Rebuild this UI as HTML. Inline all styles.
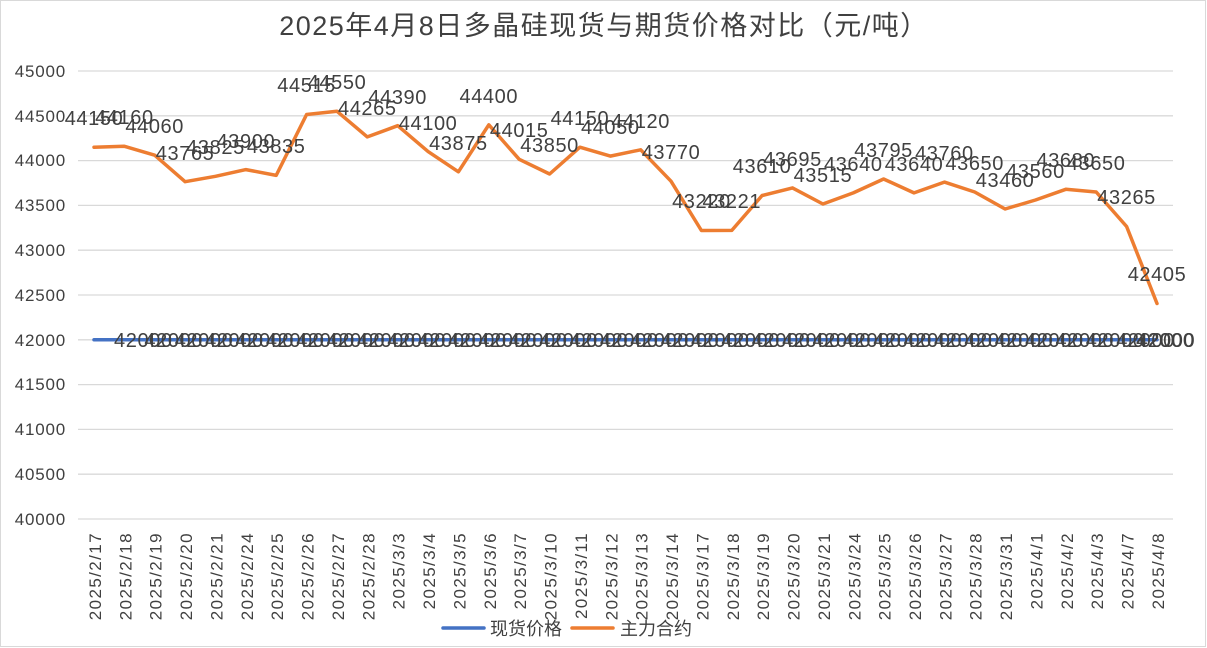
<!DOCTYPE html>
<html><head><meta charset="utf-8"><style>
body{margin:0;background:#fff}
svg{display:block}
text{font-family:"Liberation Sans","Noto Sans CJK SC",sans-serif;fill:#404040}
.yl{font-size:17px;text-anchor:end;letter-spacing:0.8px}
.xl{font-size:17px;text-anchor:end;letter-spacing:1.4px}
.dl{font-size:20px;text-anchor:middle;letter-spacing:0.6px}
.bl{font-size:20px;letter-spacing:0.6px}
</style></head><body>
<svg width="1207" height="648" viewBox="0 0 1207 648">
<rect x="0.5" y="0.5" width="1205" height="646" fill="#fff" stroke="#d9d9d9"/>
<text x="604" y="35" font-size="27" text-anchor="middle" letter-spacing="1.5">2025年4月8日多晶硅现货与期货价格对比（元/吨）</text>
<g stroke="#d9d9d9" stroke-width="1.3">
<line x1="78" x2="1173" y1="71" y2="71"/><line x1="78" x2="1173" y1="115.8" y2="115.8"/>
<line x1="78" x2="1173" y1="160.6" y2="160.6"/><line x1="78" x2="1173" y1="205.4" y2="205.4"/>
<line x1="78" x2="1173" y1="250.2" y2="250.2"/><line x1="78" x2="1173" y1="295" y2="295"/>
<line x1="78" x2="1173" y1="339.8" y2="339.8"/><line x1="78" x2="1173" y1="384.6" y2="384.6"/>
<line x1="78" x2="1173" y1="429.4" y2="429.4"/><line x1="78" x2="1173" y1="474.2" y2="474.2"/>
<line x1="78" x2="1173" y1="519" y2="519"/>
</g>
<g>
<text class="yl" x="66" y="77">45000</text><text class="yl" x="66" y="122">44500</text>
<text class="yl" x="66" y="166">44000</text><text class="yl" x="66" y="211">43500</text>
<text class="yl" x="66" y="256">43000</text><text class="yl" x="66" y="301">42500</text>
<text class="yl" x="66" y="346">42000</text><text class="yl" x="66" y="390">41500</text>
<text class="yl" x="66" y="435">41000</text><text class="yl" x="66" y="480">40500</text>
<text class="yl" x="66" y="525">40000</text>
</g>
<line x1="94" x2="1157" y1="339.8" y2="339.8" stroke="#4472c4" stroke-width="3.5" stroke-linecap="round"/>
<polyline fill="none" stroke="#ed7d31" stroke-width="3.5" stroke-linejoin="round" stroke-linecap="round" points="94,147.2 124.4,146.3 154.7,155.2 185.1,181.7 215.5,176.3 245.9,169.6 276.2,175.4 306.6,114.5 337,111.3 367.3,136.9 397.7,125.7 428.1,151.6 458.4,171.8 488.8,124.8 519.2,159.3 549.6,174 579.9,147.2 610.3,156.1 640.7,149.8 671,181.2 701.4,230.5 731.8,230.4 762.1,195.5 792.5,187.9 822.9,204 853.3,192.9 883.6,179 914,192.9 944.4,182.1 974.7,192 1005.1,209 1035.5,200 1065.8,189.3 1096.2,192 1126.6,226.5 1157,303.5"/>
<g>
<text class="bl" x="114" y="347">42000</text><text class="bl" x="144.4" y="347">42000</text><text class="bl" x="174.7" y="347">42000</text><text class="bl" x="205.1" y="347">42000</text><text class="bl" x="235.5" y="347">42000</text><text class="bl" x="265.9" y="347">42000</text><text class="bl" x="296.2" y="347">42000</text><text class="bl" x="326.6" y="347">42000</text><text class="bl" x="357" y="347">42000</text><text class="bl" x="387.3" y="347">42000</text><text class="bl" x="417.7" y="347">42000</text><text class="bl" x="448.1" y="347">42000</text><text class="bl" x="478.4" y="347">42000</text><text class="bl" x="508.8" y="347">42000</text><text class="bl" x="539.2" y="347">42000</text><text class="bl" x="569.6" y="347">42000</text><text class="bl" x="599.9" y="347">42000</text><text class="bl" x="630.3" y="347">42000</text><text class="bl" x="660.7" y="347">42000</text><text class="bl" x="691" y="347">42000</text><text class="bl" x="721.4" y="347">42000</text><text class="bl" x="751.8" y="347">42000</text><text class="bl" x="782.1" y="347">42000</text><text class="bl" x="812.5" y="347">42000</text><text class="bl" x="842.9" y="347">42000</text><text class="bl" x="873.3" y="347">42000</text><text class="bl" x="903.6" y="347">42000</text><text class="bl" x="934" y="347">42000</text><text class="bl" x="964.4" y="347">42000</text><text class="bl" x="994.7" y="347">42000</text><text class="bl" x="1025.1" y="347">42000</text><text class="bl" x="1055.5" y="347">42000</text><text class="bl" x="1085.8" y="347">42000</text><text class="bl" x="1116.2" y="347">42000</text><text class="bl" x="1136.6" y="347">42000</text><text class="bl" x="1136" y="347">42000</text>
</g>
<g>
<text class="dl" x="94" y="125">44150</text><text class="dl" x="124.4" y="124">44160</text><text class="dl" x="154.7" y="133">44060</text><text class="dl" x="185.1" y="160">43765</text><text class="dl" x="215.5" y="154">43825</text><text class="dl" x="245.9" y="148">43900</text><text class="dl" x="276.2" y="153">43835</text><text class="dl" x="306.6" y="92">44515</text><text class="dl" x="337" y="89">44550</text><text class="dl" x="367.3" y="115">44265</text><text class="dl" x="397.7" y="104">44390</text><text class="dl" x="428.1" y="130">44100</text><text class="dl" x="458.4" y="150">43875</text><text class="dl" x="488.8" y="103">44400</text><text class="dl" x="519.2" y="137">44015</text><text class="dl" x="549.6" y="152">43850</text><text class="dl" x="579.9" y="125">44150</text><text class="dl" x="610.3" y="134">44050</text><text class="dl" x="640.7" y="128">44120</text><text class="dl" x="671" y="159">43770</text><text class="dl" x="701.4" y="208">43220</text><text class="dl" x="731.8" y="208">43221</text><text class="dl" x="762.1" y="173">43610</text><text class="dl" x="792.5" y="166">43695</text><text class="dl" x="822.9" y="182">43515</text><text class="dl" x="853.3" y="171">43640</text><text class="dl" x="883.6" y="157">43795</text><text class="dl" x="914" y="171">43640</text><text class="dl" x="944.4" y="160">43760</text><text class="dl" x="974.7" y="170">43650</text><text class="dl" x="1005.1" y="187">43460</text><text class="dl" x="1035.5" y="178">43560</text><text class="dl" x="1065.8" y="167">43680</text><text class="dl" x="1096.2" y="170">43650</text><text class="dl" x="1126.6" y="204">43265</text><text class="dl" x="1157" y="281">42405</text>
</g>
<g>
<text class="xl" transform="translate(101,532) rotate(-90)">2025/2/17</text>
<text class="xl" transform="translate(131.4,532) rotate(-90)">2025/2/18</text>
<text class="xl" transform="translate(161.7,532) rotate(-90)">2025/2/19</text>
<text class="xl" transform="translate(192.1,532) rotate(-90)">2025/2/20</text>
<text class="xl" transform="translate(222.5,532) rotate(-90)">2025/2/21</text>
<text class="xl" transform="translate(252.9,532) rotate(-90)">2025/2/24</text>
<text class="xl" transform="translate(283.2,532) rotate(-90)">2025/2/25</text>
<text class="xl" transform="translate(313.6,532) rotate(-90)">2025/2/26</text>
<text class="xl" transform="translate(344,532) rotate(-90)">2025/2/27</text>
<text class="xl" transform="translate(374.3,532) rotate(-90)">2025/2/28</text>
<text class="xl" transform="translate(404.7,532) rotate(-90)">2025/3/3</text>
<text class="xl" transform="translate(435.1,532) rotate(-90)">2025/3/4</text>
<text class="xl" transform="translate(465.4,532) rotate(-90)">2025/3/5</text>
<text class="xl" transform="translate(495.8,532) rotate(-90)">2025/3/6</text>
<text class="xl" transform="translate(526.2,532) rotate(-90)">2025/3/7</text>
<text class="xl" transform="translate(556.6,532) rotate(-90)">2025/3/10</text>
<text class="xl" transform="translate(586.9,532) rotate(-90)">2025/3/11</text>
<text class="xl" transform="translate(617.3,532) rotate(-90)">2025/3/12</text>
<text class="xl" transform="translate(647.7,532) rotate(-90)">2025/3/13</text>
<text class="xl" transform="translate(678,532) rotate(-90)">2025/3/14</text>
<text class="xl" transform="translate(708.4,532) rotate(-90)">2025/3/17</text>
<text class="xl" transform="translate(738.8,532) rotate(-90)">2025/3/18</text>
<text class="xl" transform="translate(769.1,532) rotate(-90)">2025/3/19</text>
<text class="xl" transform="translate(799.5,532) rotate(-90)">2025/3/20</text>
<text class="xl" transform="translate(829.9,532) rotate(-90)">2025/3/21</text>
<text class="xl" transform="translate(860.3,532) rotate(-90)">2025/3/24</text>
<text class="xl" transform="translate(890.6,532) rotate(-90)">2025/3/25</text>
<text class="xl" transform="translate(921,532) rotate(-90)">2025/3/26</text>
<text class="xl" transform="translate(951.4,532) rotate(-90)">2025/3/27</text>
<text class="xl" transform="translate(981.7,532) rotate(-90)">2025/3/28</text>
<text class="xl" transform="translate(1012.1,532) rotate(-90)">2025/3/31</text>
<text class="xl" transform="translate(1042.5,532) rotate(-90)">2025/4/1</text>
<text class="xl" transform="translate(1072.8,532) rotate(-90)">2025/4/2</text>
<text class="xl" transform="translate(1103.2,532) rotate(-90)">2025/4/3</text>
<text class="xl" transform="translate(1133.6,532) rotate(-90)">2025/4/7</text>
<text class="xl" transform="translate(1164,532) rotate(-90)">2025/4/8</text>
</g>
<line x1="443" x2="484" y1="628" y2="628" stroke="#4472c4" stroke-width="3.5" stroke-linecap="round"/>
<text x="490" y="635" font-size="18">现货价格</text>
<line x1="572" x2="613" y1="628" y2="628" stroke="#ed7d31" stroke-width="3.5" stroke-linecap="round"/>
<text x="620" y="635" font-size="18">主力合约</text>
</svg>
</body></html>
